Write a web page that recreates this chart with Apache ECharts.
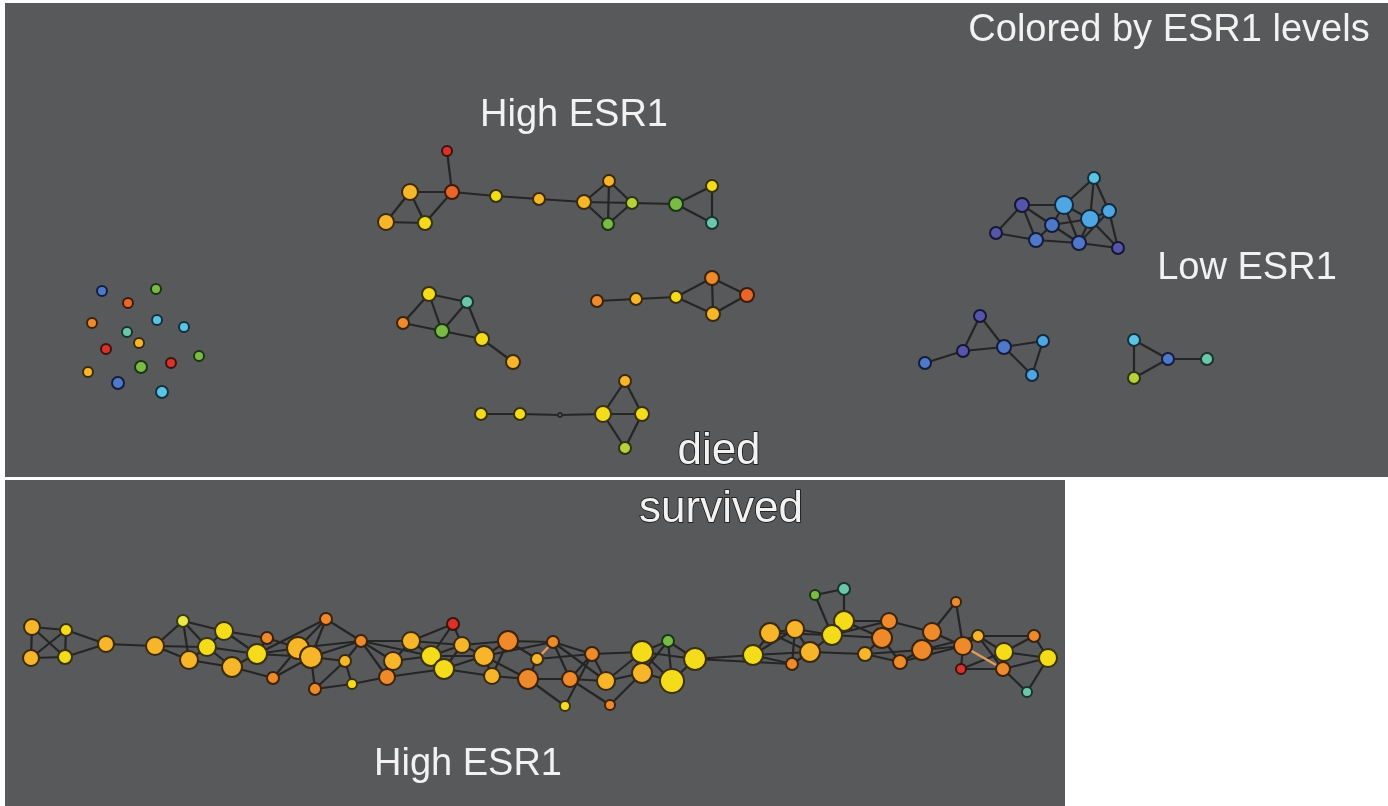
<!DOCTYPE html>
<html>
<head>
    <meta charset="utf-8">
    <title>ESR1 network</title>
    <script src="https://cdn.jsdelivr.net/npm/echarts@6/dist/echarts.min.js"></script>
    <style>
        html, body { margin: 0; padding: 0; background: #ffffff; }
    </style>
</head>
<body>
    <div id="main" style="width: 1388px;height:806px;"></div>
    <script type="text/javascript">

    // node = [x, y, radius, ESR1 colour group]
    var topNodes = [
        [447,151,5,'red'], [452,192,7,'ored'], [410,192,8,'gold'], [386,222,8,'gold'],
        [425,223,7,'yellow'], [496,196,6,'yellow'], [539,199,6,'gold'], [584,202,7,'gold'],
        [609,181,6,'gold'], [632,203,6,'yg'], [608,224,6,'green'], [676,204,7,'green'],
        [712,186,6,'yellow'], [712,223,6,'teal'],
        // singletons
        [102,291,5,'blue'], [156,289,5,'green'], [128,303,5,'ored'], [92,323,5,'orange'],
        [157,320,5,'cyan'], [184,327,5,'cyan'], [127,332,5,'teal'], [139,343,5,'gold'],
        [106,349,5,'red'], [199,356,5,'green'], [141,367,6,'green'], [171,363,5,'red'],
        [88,372,5,'gold'], [118,383,6,'blue'], [162,392,6,'cyan'],
        [429,294,7,'yellow'], [467,302,6,'teal'], [403,323,6,'orange'], [442,331,7,'green'],
        [482,339,7,'yellow'], [513,362,7,'gold'],
        [597,301,6,'orange'], [636,299,6,'gold'], [676,297,6,'yellow'], [712,278,7,'orange'],
        [747,295,7,'ored'], [713,314,7,'gold'],
        [481,414,6,'yellow'], [520,414,6,'yellow'], [560,415,2,'gray'], [603,414,8,'yellow'],
        [625,381,6,'gold'], [642,414,7,'yellow'], [625,448,6,'yg'],
        // low ESR1
        [1094,178,6,'cyan'], [1022,205,7,'purple'], [1064,205,9,'lblue'], [1109,211,7,'lblue'],
        [1090,219,9,'lblue'], [1052,225,7,'blue'], [996,233,6,'purple'], [1036,240,7,'blue'],
        [1079,243,7,'blue'], [1118,248,6,'purple'],
        [980,316,6,'purple'], [963,351,6,'purple'], [925,363,6,'blue'], [1004,347,7,'blue'],
        [1043,341,6,'lblue'], [1032,375,6,'lblue'],
        [1134,340,6,'cyan'], [1168,359,6,'blue'], [1207,359,6,'teal'], [1134,378,6,'yg']
    ];
    var topEdges = [
        [0,1],[1,2],[2,3],[2,4],[3,4],[4,1],[1,5],[5,6],[6,7],[7,8],[7,9],[7,10],[8,9],[8,10],
        [9,10],[9,11],[11,12],[11,13],[12,13],
        [29,31],[29,32],[29,30],[31,32],[32,30],[32,33],[30,33],[33,34],
        [35,36],[36,37],[37,38],[37,40],[38,39],[38,40],[39,40],
        [41,42],[42,43],[43,44],[44,45],[44,46],[44,47],[45,46],[46,47],
        [48,50],[48,52],[48,51],[49,50],[49,54],[49,55],[49,53],[50,53],[50,52],[50,56],[52,51],
        [52,53],[52,56],[52,57],[51,57],[53,55],[53,56],[54,55],[55,56],[56,57],[51,56],
        [60,59],[59,58],[59,61],[58,61],[61,62],[61,63],[62,63],
        [64,65],[65,66],[64,67],[67,65]
    ];

    var bottomNodes = [
        [32,627,8,'gold'], [66,630,6,'yellow'], [31,658,8,'gold'], [65,657,7,'yellow'],
        [106,644,8,'gold'], [155,646,9,'gold'], [183,621,6,'lyellow'], [224,631,9,'yellow'],
        [207,647,9,'yellow'], [189,660,9,'gold'], [267,638,6,'orange'], [232,667,10,'gold'],
        [257,654,10,'yellow'], [273,678,6,'orange'], [298,648,11,'gold'], [311,657,11,'gold'],
        [326,619,6,'orange'], [345,661,6,'gold'], [315,689,6,'orange'], [352,684,5,'yellow'],
        [361,641,6,'orange'], [453,624,6,'red'], [411,641,9,'gold'], [393,661,9,'gold'],
        [387,677,8,'orange'], [431,656,10,'yellow'], [462,645,8,'gold'], [444,669,10,'yellow'],
        [508,641,10,'orange'], [484,656,10,'gold'], [492,676,8,'gold'], [528,679,10,'orange'],
        [537,659,6,'gold'], [553,642,6,'orange'], [592,654,7,'orange'], [570,679,8,'orange'],
        [565,706,5,'yellow'], [606,681,9,'gold'], [610,705,5,'orange'], [642,652,11,'yellow'],
        [642,673,10,'gold'], [668,641,6,'green'], [672,681,12,'yellow'], [695,659,11,'yellow'],
        [753,655,10,'yellow'], [770,633,10,'gold'], [795,629,9,'gold'], [792,664,6,'orange'],
        [810,652,10,'gold'], [815,595,5,'green'], [844,589,6,'teal'], [844,621,10,'yellow'],
        [832,635,10,'yellow'], [889,621,8,'orange'], [882,638,10,'orange'], [865,654,7,'gold'],
        [900,662,7,'orange'], [932,632,9,'orange'], [922,650,10,'orange'], [956,602,5,'orange'],
        [963,646,9,'orange'], [978,636,6,'gold'], [961,669,5,'red'], [1004,652,9,'yellow'],
        [1003,669,7,'orange'], [1034,636,6,'orange'], [1048,658,9,'yellow'], [1027,692,5,'teal']
    ];
    var bottomEdges = [
        [0,1],[0,2],[0,3],[1,2],[1,3],[2,3],[1,4],[3,4],[4,5],[5,6],[5,8],[5,9],[6,7],[6,8],
        [6,9],[7,8],[7,10],[7,12],[8,9],[8,11],[8,12],[9,11],[10,12],[10,14],[11,12],[11,13],
        [12,14],[12,15],[13,14],[13,15],[14,15],[14,16],[15,17],[15,18],[16,20],[16,15],[17,18],
        [17,19],[18,19],[17,20],[19,24],[20,22],[20,23],[20,24],[22,23],[22,25],[22,21],[23,25],
        [23,24],[24,27],[21,25],[21,26],[25,26],[25,27],[26,27],[26,28],[25,29],[27,29],[28,29],
        [28,33],[28,30],[29,30],[29,31],[30,31],[31,32],[31,35],[33,34],[33,37],[34,35],[34,39],
        [36,31],[36,34],[38,35],[38,40],[35,37],[37,40],[39,40],[39,41],[39,43],[40,42],
        [41,42],[41,43],[42,43],[39,42],[43,44],[44,45],[44,47],[44,48],[45,46],[45,48],[46,47],
        [46,52],[46,48],[48,52],[48,55],[49,50],[49,52],[50,51],[51,52],[51,53],[51,54],[52,54],
        [53,54],[54,55],[54,56],[53,57],[55,58],[56,58],[57,58],[57,59],[59,60],[57,60],[58,60],
        [60,61],[60,62],[61,63],[62,64],[63,64],[63,65],[63,66],[64,66],[65,66],[64,67],[67,66],
        [61,65],
        [12,16],[14,20],[15,20],[20,25],[22,26],[26,29],[28,32],[29,33],[33,35],[34,37],[37,39],
        [40,41],[43,47],[45,52],[47,48],[52,53],[55,56],[56,60],[58,61],[62,63],[61,64],[44,46],
        [27,30],[32,34]
    ];
    var bottomHighlight = [[32,33],[60,64]];

    var palette = {
        red:     ['#d8322a', '#3a140c'],
        ored:    ['#e8662a', '#3a1c0c'],
        orange:  ['#ef8a2b', '#3a220c'],
        gold:    ['#f7b52a', '#3a2a0c'],
        yellow:  ['#f4dc1a', '#3a320c'],
        lyellow: ['#e8e84a', '#3a3a10'],
        yg:      ['#b6cf3a', '#2a3414'],
        green:   ['#79bb45', '#1c3414'],
        teal:    ['#6dc6aa', '#17342e'],
        cyan:    ['#5ac4e4', '#14303c'],
        lblue:   ['#4ea6e2', '#14283c'],
        blue:    ['#4f78c9', '#141c3c'],
        purple:  ['#5555aa', '#161634'],
        gray:    ['#6b6b6b', '#2a2a2a']
    };

    function toData(nodes) {
        return nodes.map(function (n) {
            return {
                value: [n[0], n[1]],
                symbolSize: n[2] * 2,
                itemStyle: { color: palette[n[3]][0], borderColor: palette[n[3]][1], borderWidth: 2 }
            };
        });
    }
    function toLinks(edges, special) {
        var links = edges.map(function (e) { return { source: e[0], target: e[1] }; });
        special.forEach(function (e) {
            links.push({ source: e[0], target: e[1], lineStyle: { color: '#e39a5c', width: 2.5 } });
        });
        return links;
    }

    var panel = '#58595b';
    function label(text, cx, baseline, size, outline) {
        var style = {
            text: text, x: cx, y: baseline - size * 0.39,
            fill: '#f2f2f2', font: size + 'px "Liberation Sans", Arial, sans-serif',
            textAlign: 'center', textVerticalAlign: 'middle'
        };
        if (outline) {
            style.stroke = '#111111';
            style.lineWidth = 1.5;
        }
        return { type: 'text', z: 100, style: style };
    }

    var myChart = echarts.init(document.getElementById('main'));
    var option = {
        animation: false,
        backgroundColor: '#ffffff',
        grid: { left: 0, right: 0, top: 0, bottom: 0 },
        xAxis: { type: 'value', min: 0, max: 1388, show: false },
        yAxis: { type: 'value', min: 0, max: 806, inverse: true, show: false },
        graphic: [
            { type: 'rect', z: -10, shape: { x: 5, y: 3, width: 1383, height: 474 }, style: { fill: panel } },
            { type: 'rect', z: -10, shape: { x: 5, y: 480, width: 1060, height: 326 }, style: { fill: panel } },
            label('Colored by ESR1 levels', 1169, 45, 38),
            label('High ESR1', 574, 130, 38),
            label('Low ESR1', 1247, 283, 38),
            label('High ESR1', 468, 779, 38),
            label('died', 719, 469, 44, true),
            label('survived', 721, 527, 44, true)
        ],
        series: [
            {
                type: 'graph', coordinateSystem: 'cartesian2d', silent: true,
                data: toData(topNodes), links: toLinks(topEdges, []),
                lineStyle: { color: '#252525', width: 2.2, opacity: 1 }, z: 2
            },
            {
                type: 'graph', coordinateSystem: 'cartesian2d', silent: true,
                data: toData(bottomNodes), links: toLinks(bottomEdges, bottomHighlight),
                lineStyle: { color: '#252525', width: 2.2, opacity: 1 }, z: 2
            }
        ]
    };
    myChart.setOption(option);
    </script>
</body>
</html>
